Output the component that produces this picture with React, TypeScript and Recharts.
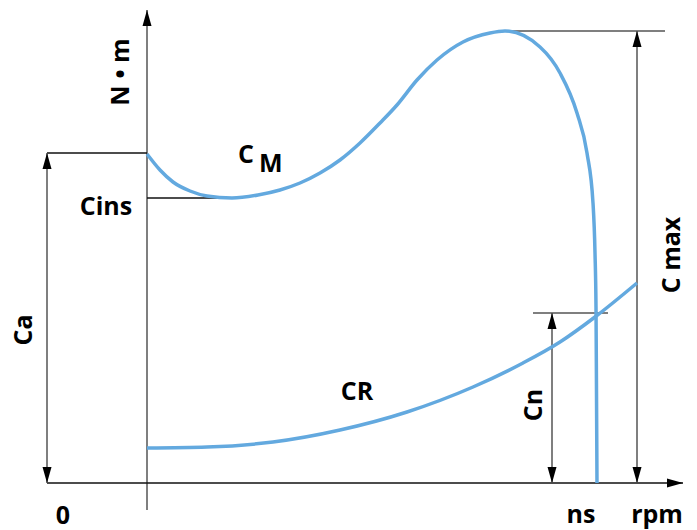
import React from "react";
import { LineChart, Line, XAxis, YAxis, ReferenceLine, ReferenceDot } from "recharts";

const BLUE = "#63a9df";
const INK = "#555";
const FONT = "'Open Sans', sans-serif";

// motor torque CM : speed (from axis) vs torque
const cmSpeed = [0, 13, 26, 43, 60, 85, 111, 133, 153, 173, 193, 213, 233, 250, 270, 290, 316, 343, 358, 393, 413, 430, 440, 446, 448, 449, 449.5, 450];
const cmTorque = [329, 313, 301, 292, 287, 285, 288, 293, 300, 310, 323, 340, 360, 378, 403, 423, 441, 450, 452, 436, 410, 370, 330, 280, 230, 176, 90, 0];

// resistant torque CR
const crSpeed = [0, 60, 126, 193, 260, 326, 376, 413, 448, 490];
const crTorque = [35, 36, 41, 53, 71, 96, 120, 141, 166, 200];

// marked levels
const Ca = 330;
const Cins = 285;
const Cmax = 452;
const Cn = 170;

const cmData = cmSpeed.map((x, i) => ({ x, y: cmTorque[i] }));
const crData = crSpeed.map((x, i) => ({ x, y: crTorque[i] }));

const arrowHead = (tx: number, ty: number, ox: number, oy: number, len = 16, w = 9) => {
  const d = Math.hypot(tx - ox, ty - oy) || 1;
  const ux = (tx - ox) / d;
  const uy = (ty - oy) / d;
  const bx = tx - ux * len;
  const by = ty - uy * len;
  const nx = -uy * (w / 2);
  const ny = ux * (w / 2);
  return `${tx},${ty} ${bx + nx},${by + ny} ${bx - nx},${by - ny}`;
};

const arrowLine = (start: boolean, end: boolean, color = INK) => (p: any) => {
  const { x1, y1, x2, y2 } = p;
  return (
    <g>
      <line x1={x1} y1={y1} x2={x2} y2={y2} stroke={color} strokeWidth={1.5} />
      {start && <polygon points={arrowHead(x1, y1, x2, y2)} fill="#000" />}
      {end && <polygon points={arrowHead(x2, y2, x1, y1)} fill="#000" />}
    </g>
  );
};

const textShape = (txt: string, angle = 0) => (p: any) => (
  <text
    x={p.cx}
    y={p.cy}
    textAnchor="middle"
    dominantBaseline="central"
    fontFamily={FONT}
    fontWeight={700}
    fontSize={25}
    fill="#000"
    transform={angle ? `rotate(${angle} ${p.cx} ${p.cy})` : undefined}
  >
    {txt}
  </text>
);

const cmLabel = (p: any) => (
  <text x={p.cx} y={p.cy} fontFamily={FONT} fontWeight={700} fontSize={25} fill="#000">
    C
    <tspan dx={5} dy={9}>M</tspan>
  </text>
);

const App = () => (
  <div style={{ position: "absolute", left: 0, top: 0, background: "#fff" }}>
    <LineChart width={697} height={530} margin={{ top: 0, right: 0, bottom: 0, left: 0 }}>
      <XAxis type="number" dataKey="x" domain={[-147, 550]} allowDataOverflow hide />
      <YAxis type="number" dataKey="y" domain={[-47, 483]} allowDataOverflow hide />

      {/* axes */}
      <ReferenceLine segment={[{ x: 0, y: -27 }, { x: 0, y: 473 }]} shape={arrowLine(false, true)} />
      <ReferenceLine segment={[{ x: -100, y: 0 }, { x: 536, y: 0 }]} shape={arrowLine(false, true, "#111")} />

      {/* Ca */}
      <ReferenceLine segment={[{ x: -100, y: Ca }, { x: 0, y: Ca }]} shape={arrowLine(false, false, "#111")} />
      <ReferenceLine segment={[{ x: -100, y: 0 }, { x: -100, y: Ca }]} shape={arrowLine(true, true)} />
      {/* Cins */}
      <ReferenceLine segment={[{ x: 0, y: Cins }, { x: 86, y: Cins }]} shape={arrowLine(false, false, "#111")} />
      {/* Cmax */}
      <ReferenceLine segment={[{ x: 358, y: Cmax }, { x: 518, y: Cmax }]} shape={arrowLine(false, false)} />
      <ReferenceLine segment={[{ x: 490, y: 0 }, { x: 490, y: Cmax }]} shape={arrowLine(true, true)} />
      {/* Cn */}
      <ReferenceLine segment={[{ x: 386, y: Cn }, { x: 461, y: Cn }]} shape={arrowLine(false, false)} />
      <ReferenceLine segment={[{ x: 405, y: 0 }, { x: 405, y: Cn }]} shape={arrowLine(true, true)} />

      <Line data={cmData} dataKey="y" type="monotone" stroke={BLUE} strokeWidth={3.5} dot={false} activeDot={false} isAnimationActive={false} />
      <Line data={crData} dataKey="y" type="monotone" stroke={BLUE} strokeWidth={3.5} dot={false} activeDot={false} isAnimationActive={false} />

      {/* texts */}
      <ReferenceDot x={-28} y={411} r={0} shape={textShape("N • m", -90)} />
      <ReferenceDot x={-41} y={278} r={0} shape={textShape("Cins")} />
      <ReferenceDot x={91} y={320} r={0} shape={cmLabel} />
      <ReferenceDot x={210} y={93} r={0} shape={textShape("CR")} />
      <ReferenceDot x={-125} y={153} r={0} shape={textShape("Ca", -90)} />
      <ReferenceDot x={385} y={78} r={0} shape={textShape("Cn", -90)} />
      <ReferenceDot x={523} y={228} r={0} shape={textShape("C max", -90)} />
      <ReferenceDot x={-84} y={-31} r={0} shape={textShape("0")} />
      <ReferenceDot x={434} y={-30} r={0} shape={textShape("ns")} />
      <ReferenceDot x={510} y={-30} r={0} shape={textShape("rpm")} />
    </LineChart>
  </div>
);

export default App;
